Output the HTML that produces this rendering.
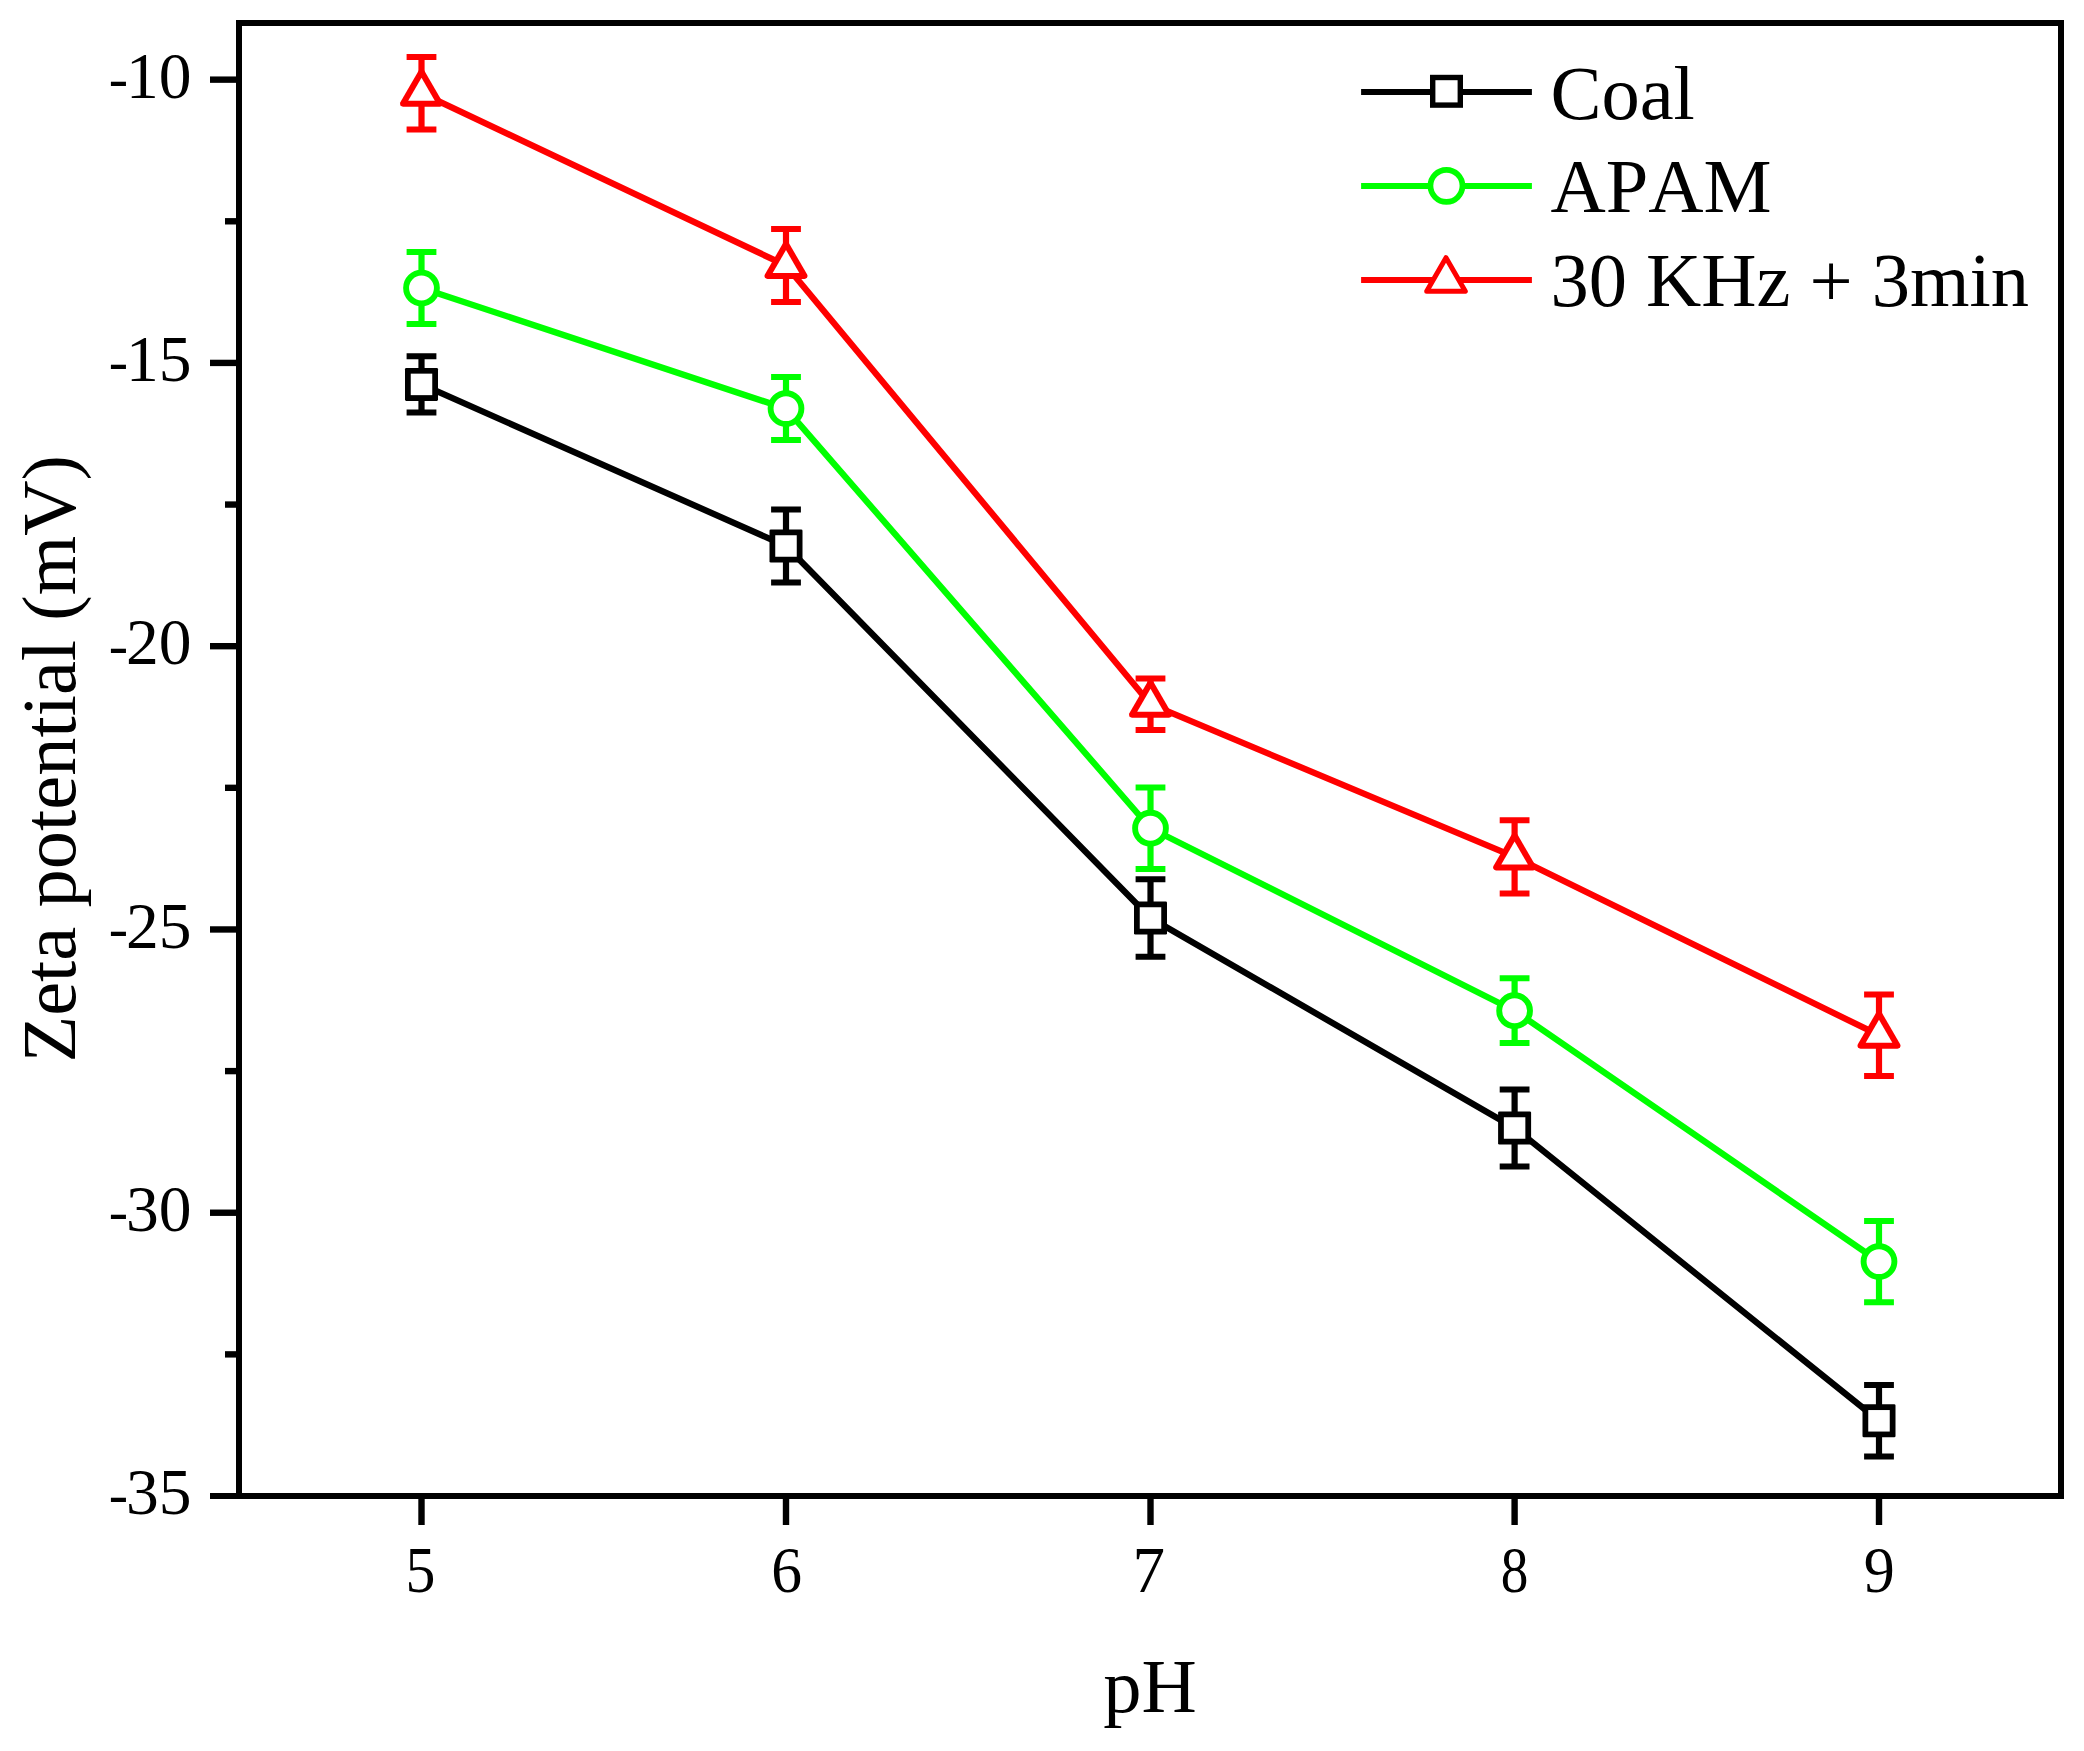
<!DOCTYPE html>
<html lang="en"><head><meta charset="utf-8"><title>Zeta potential vs pH</title>
<style>html,body{margin:0;padding:0;background:#fff}body{width:2084px;height:1751px;overflow:hidden}svg{display:block}text{font-kerning:none;font-variant-ligatures:none}</style>
</head><body>
<svg width="2084" height="1751" viewBox="0 0 2084 1751">
<rect x="0" y="0" width="2084" height="1751" fill="#fff"/>
<rect x="239" y="23" width="1822" height="1473" fill="none" stroke="#000" stroke-width="6"/>
<g stroke="#000" stroke-width="6.4" fill="none">
<line x1="210" y1="79.65" x2="239" y2="79.65"/>
<line x1="210" y1="362.92" x2="239" y2="362.92"/>
<line x1="210" y1="646.19" x2="239" y2="646.19"/>
<line x1="210" y1="929.46" x2="239" y2="929.46"/>
<line x1="210" y1="1212.73" x2="239" y2="1212.73"/>
<line x1="210" y1="1496" x2="239" y2="1496" stroke-width="6"/>
<line x1="225" y1="221.29" x2="239" y2="221.29"/>
<line x1="225" y1="504.56" x2="239" y2="504.56"/>
<line x1="225" y1="787.83" x2="239" y2="787.83"/>
<line x1="225" y1="1071.10" x2="239" y2="1071.10"/>
<line x1="225" y1="1354.37" x2="239" y2="1354.37"/>
<line x1="421.5" y1="1496" x2="421.5" y2="1525"/>
<line x1="786.0" y1="1496" x2="786.0" y2="1525"/>
<line x1="1150.5" y1="1496" x2="1150.5" y2="1525"/>
<line x1="1514.6" y1="1496" x2="1514.6" y2="1525"/>
<line x1="1879.0" y1="1496" x2="1879.0" y2="1525"/>
</g>
<g font-family="'Liberation Serif', serif" font-size="65.5" fill="#000">
<text x="191.5" y="97.90" text-anchor="end"><tspan font-size="58" dy="-0.8">-</tspan><tspan dx="-2.1" dy="0.8">10</tspan></text>
<text x="191.5" y="381.17" text-anchor="end"><tspan font-size="58" dy="-0.8">-</tspan><tspan dx="-2.1" dy="0.8">15</tspan></text>
<text x="191.5" y="664.44" text-anchor="end"><tspan font-size="58" dy="-0.8">-</tspan><tspan dx="-2.1" dy="0.8">20</tspan></text>
<text x="191.5" y="947.71" text-anchor="end"><tspan font-size="58" dy="-0.8">-</tspan><tspan dx="-2.1" dy="0.8">25</tspan></text>
<text x="191.5" y="1230.98" text-anchor="end"><tspan font-size="58" dy="-0.8">-</tspan><tspan dx="-2.1" dy="0.8">30</tspan></text>
<text x="191.5" y="1514.25" text-anchor="end"><tspan font-size="58" dy="-0.8">-</tspan><tspan dx="-2.1" dy="0.8">35</tspan></text>
<text x="420.35" y="1592.3" text-anchor="middle" textLength="29.9" lengthAdjust="spacingAndGlyphs">5</text>
<text x="786.6" y="1592.3" text-anchor="middle" textLength="30.8" lengthAdjust="spacingAndGlyphs">6</text>
<text x="1148.65" y="1592.3" text-anchor="middle" textLength="32.5" lengthAdjust="spacingAndGlyphs">7</text>
<text x="1514.5" y="1592.3" text-anchor="middle" textLength="27.6" lengthAdjust="spacingAndGlyphs">8</text>
<text x="1879.2" y="1592.3" text-anchor="middle" textLength="31.0" lengthAdjust="spacingAndGlyphs">9</text>
</g>
<g font-family="'Liberation Serif', serif" font-size="76.5" fill="#000">
<text x="1150" y="1712" text-anchor="middle">pH</text>
<text transform="translate(75.0,758.8) rotate(-90)" text-anchor="middle">Zeta potential (mV)</text>
<text x="1550.4" y="118.5">Coal</text>
<text x="1550.4" y="211.5">APAM</text>
<text x="1550.4" y="305.6">30 KHz + 3min</text>
</g>
<g stroke="#000" stroke-width="6" fill="none">
<path d="M421.50 384.40 L786.00 546.00 L1150.50 918.00 L1514.60 1128.00 L1879.00 1420.80" stroke-linejoin="round" stroke-width="6.3"/>
<path d="M406.60 356.20 H436.40 M406.60 412.60 H436.40"/>
<path d="M421.50 356.20 V412.60" stroke-width="6.2"/>
<path d="M771.10 509.50 H800.90 M771.10 582.50 H800.90"/>
<path d="M786.00 509.50 V582.50" stroke-width="6.2"/>
<path d="M1135.60 879.30 H1165.40 M1135.60 956.70 H1165.40"/>
<path d="M1150.50 879.30 V956.70" stroke-width="6.2"/>
<path d="M1499.70 1089.50 H1529.50 M1499.70 1166.50 H1529.50"/>
<path d="M1514.60 1089.50 V1166.50" stroke-width="6.2"/>
<path d="M1864.10 1385.00 H1893.90 M1864.10 1456.60 H1893.90"/>
<path d="M1879.00 1385.00 V1456.60" stroke-width="6.2"/>
</g>
<rect x="405.00" y="367.90" width="33" height="33" rx="1.3" fill="#000"/><rect x="410.75" y="373.65" width="21.5" height="21.5" fill="#fff"/>
<rect x="769.50" y="529.50" width="33" height="33" rx="1.3" fill="#000"/><rect x="775.25" y="535.25" width="21.5" height="21.5" fill="#fff"/>
<rect x="1134.00" y="901.50" width="33" height="33" rx="1.3" fill="#000"/><rect x="1139.75" y="907.25" width="21.5" height="21.5" fill="#fff"/>
<rect x="1498.10" y="1111.50" width="33" height="33" rx="1.3" fill="#000"/><rect x="1503.85" y="1117.25" width="21.5" height="21.5" fill="#fff"/>
<rect x="1862.50" y="1404.30" width="33" height="33" rx="1.3" fill="#000"/><rect x="1868.25" y="1410.05" width="21.5" height="21.5" fill="#fff"/>
<g stroke="#0f0" stroke-width="6" fill="none">
<path d="M421.50 288.00 L786.00 408.60 L1150.50 828.20 L1514.60 1010.70 L1879.00 1261.60" stroke-linejoin="round" stroke-width="6.3"/>
<path d="M406.60 252.00 H436.40 M406.60 324.00 H436.40"/>
<path d="M421.50 252.00 V324.00" stroke-width="6.2"/>
<path d="M771.10 377.10 H800.90 M771.10 440.10 H800.90"/>
<path d="M786.00 377.10 V440.10" stroke-width="6.2"/>
<path d="M1135.60 787.50 H1165.40 M1135.60 868.90 H1165.40"/>
<path d="M1150.50 787.50 V868.90" stroke-width="6.2"/>
<path d="M1499.70 978.30 H1529.50 M1499.70 1043.10 H1529.50"/>
<path d="M1514.60 978.30 V1043.10" stroke-width="6.2"/>
<path d="M1864.10 1221.00 H1893.90 M1864.10 1302.20 H1893.90"/>
<path d="M1879.00 1221.00 V1302.20" stroke-width="6.2"/>
</g>
<circle cx="421.50" cy="288.00" r="15.4" fill="#fff" stroke="#0f0" stroke-width="5.9"/>
<circle cx="786.00" cy="408.60" r="15.4" fill="#fff" stroke="#0f0" stroke-width="5.9"/>
<circle cx="1150.50" cy="828.20" r="15.4" fill="#fff" stroke="#0f0" stroke-width="5.9"/>
<circle cx="1514.60" cy="1010.70" r="15.4" fill="#fff" stroke="#0f0" stroke-width="5.9"/>
<circle cx="1879.00" cy="1261.60" r="15.4" fill="#fff" stroke="#0f0" stroke-width="5.9"/>
<g stroke="#f00" stroke-width="6" fill="none">
<path d="M421.50 93.20 L786.00 265.50 L1150.50 704.20 L1514.60 856.90 L1879.00 1035.20" stroke-linejoin="round" stroke-width="6.3"/>
<path d="M406.60 57.00 H436.40 M406.60 129.40 H436.40"/>
<path d="M421.50 57.00 V129.40" stroke-width="6.2"/>
<path d="M771.10 229.00 H800.90 M771.10 302.00 H800.90"/>
<path d="M786.00 229.00 V302.00" stroke-width="6.2"/>
<path d="M1135.60 678.40 H1165.40 M1135.60 730.00 H1165.40"/>
<path d="M1150.50 678.40 V730.00" stroke-width="6.2"/>
<path d="M1499.70 820.20 H1529.50 M1499.70 893.60 H1529.50"/>
<path d="M1514.60 820.20 V893.60" stroke-width="6.2"/>
<path d="M1864.10 994.40 H1893.90 M1864.10 1076.00 H1893.90"/>
<path d="M1879.00 994.40 V1076.00" stroke-width="6.2"/>
</g>
<g transform="translate(421.50,93.20)"><path d="M-2.6 -23 L2.6 -23 L21.15 9.1 A3.1 3.1 0 0 1 18.45 13.6 L-18.45 13.6 A3.1 3.1 0 0 1 -21.15 9.1 Z" fill="#f00"/><path d="M0 -15.5 L13.3 7.6 L-13.3 7.6 Z" fill="#fff"/></g>
<g transform="translate(786.00,265.50)"><path d="M-2.6 -23 L2.6 -23 L21.15 9.1 A3.1 3.1 0 0 1 18.45 13.6 L-18.45 13.6 A3.1 3.1 0 0 1 -21.15 9.1 Z" fill="#f00"/><path d="M0 -15.5 L13.3 7.6 L-13.3 7.6 Z" fill="#fff"/></g>
<g transform="translate(1150.50,704.20)"><path d="M-2.6 -23 L2.6 -23 L21.15 9.1 A3.1 3.1 0 0 1 18.45 13.6 L-18.45 13.6 A3.1 3.1 0 0 1 -21.15 9.1 Z" fill="#f00"/><path d="M0 -15.5 L13.3 7.6 L-13.3 7.6 Z" fill="#fff"/></g>
<g transform="translate(1514.60,856.90)"><path d="M-2.6 -23 L2.6 -23 L21.15 9.1 A3.1 3.1 0 0 1 18.45 13.6 L-18.45 13.6 A3.1 3.1 0 0 1 -21.15 9.1 Z" fill="#f00"/><path d="M0 -15.5 L13.3 7.6 L-13.3 7.6 Z" fill="#fff"/></g>
<g transform="translate(1879.00,1035.20)"><path d="M-2.6 -23 L2.6 -23 L21.15 9.1 A3.1 3.1 0 0 1 18.45 13.6 L-18.45 13.6 A3.1 3.1 0 0 1 -21.15 9.1 Z" fill="#f00"/><path d="M0 -15.5 L13.3 7.6 L-13.3 7.6 Z" fill="#fff"/></g>
<line x1="1361.1" y1="92" x2="1531.9" y2="92" stroke="#000" stroke-width="6"/>
<line x1="1361.1" y1="186" x2="1531.9" y2="186" stroke="#0f0" stroke-width="6"/>
<line x1="1361.1" y1="280" x2="1531.9" y2="280" stroke="#f00" stroke-width="6"/>
<rect x="1432.7" y="77.5" width="27.6" height="27.6" fill="#fff" stroke="#000" stroke-width="5.4"/>
<circle cx="1446.45" cy="185.85" r="16" fill="#fff" stroke="#0f0" stroke-width="5.7"/>
<path d="M1446 257.7 L1465.3 291.3 L1426.7 291.3 Z" fill="#fff" stroke="#f00" stroke-width="5" stroke-linejoin="round"/>
</svg>
</body></html>
